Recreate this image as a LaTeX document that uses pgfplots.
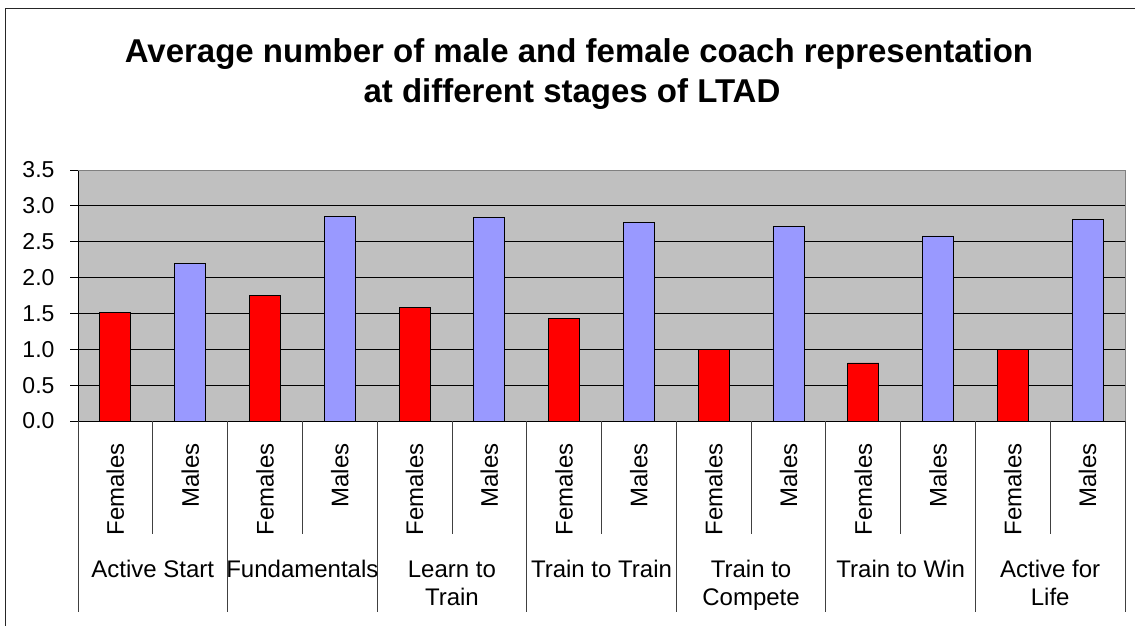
\documentclass[border=0pt]{standalone}
\usepackage{pgfplots}
\pgfplotsset{compat=1.18}
\usepackage{fontspec}
\setmainfont{Liberation Sans}
\definecolor{bgray}{HTML}{C0C0C0}
\definecolor{fem}{HTML}{FF0000}
\definecolor{mal}{HTML}{9999FF}
\begin{document}
\begin{tikzpicture}[x=1pt,y=1pt]
\path[use as bounding box] (0,0) rectangle (1135,-626);
\draw[line width=1pt, black!85] (5,-626) -- (5,-9) -- (1135,-9);
\node[anchor=base, font=\fontsize{33}{39}\selectfont\bfseries] at (579,-63) {Average number of male and female coach representation};
\node[anchor=base, font=\fontsize{33}{39}\selectfont\bfseries] at (572,-102) {at different stages of LTAD};
\begin{axis}[
  at={(78pt,-421pt)}, anchor=south west, scale only axis,
  width=1047pt, height=251pt,
  xmin=-0.5, xmax=13.5, ymin=0, ymax=3.5,
  ytick={0,0.5,...,3.5},
  ymajorgrids, grid style={black, line width=0.8pt},
  axis background/.style={fill=bgray},
  axis x line*=bottom, axis y line*=left,
  axis line style={black, line width=0.8pt},
  tick align=outside, major tick length=8pt,
  xtick={0,...,13},
  xticklabels={Females,Males,Females,Males,Females,Males,Females,Males,Females,Males,Females,Males,Females,Males},
  xtick style={draw=none},
  ytick style={black, line width=0.8pt},
  xticklabel style={rotate=90, anchor=east, font=\fontsize{24}{28}\selectfont},
  xticklabel shift=11pt,
  yticklabel style={font=\fontsize{23}{26}\selectfont, /pgf/number format/.cd, fixed, fixed zerofill, precision=1, assume math mode=true},
  yticklabel shift=12pt,
  clip=false,
]
\addplot[ybar, bar width=31pt, bar shift=0pt, fill=fem, draw=black, line width=0.8pt]
  coordinates {(0,1.51) (2,1.745) (4,1.58) (6,1.43) (8,1.0) (10,0.81) (12,1.0)};
\addplot[ybar, bar width=31pt, bar shift=0pt, fill=mal, draw=black, line width=0.8pt]
  coordinates {(1,2.20) (3,2.855) (5,2.84) (7,2.77) (9,2.71) (11,2.58) (13,2.81)};
\draw[black!50, line width=0.8pt] (rel axis cs:0,1) -- (rel axis cs:1,1) -- (rel axis cs:1,0);
\pgfplotsinvokeforeach{0.5,2.5,4.5,6.5,8.5,10.5,12.5}{
  \draw[black!75, line width=0.8pt] (axis cs:#1,0) -- ([yshift=-113pt]axis cs:#1,0);
}
\pgfplotsinvokeforeach{-0.5,1.5,3.5,5.5,7.5,9.5,11.5,13.5}{
  \draw[black!75, line width=0.8pt] (axis cs:#1,0) -- ([yshift=-191pt]axis cs:#1,0);
}
\tikzset{grp/.style={anchor=base, font=\fontsize{24}{28}\selectfont}}
\node[grp] at ([yshift=-156pt]axis cs:0.5,0) {Active Start};
\node[grp] at ([yshift=-156pt]axis cs:2.5,0) {Fundamentals};
\node[grp] at ([yshift=-156pt]axis cs:4.5,0) {Learn to};
\node[grp] at ([yshift=-184pt]axis cs:4.5,0) {Train};
\node[grp] at ([yshift=-156pt]axis cs:6.5,0) {Train to Train};
\node[grp] at ([yshift=-156pt]axis cs:8.5,0) {Train to};
\node[grp] at ([yshift=-184pt]axis cs:8.5,0) {Compete};
\node[grp] at ([yshift=-156pt]axis cs:10.5,0) {Train to Win};
\node[grp] at ([yshift=-156pt]axis cs:12.5,0) {Active for};
\node[grp] at ([yshift=-184pt]axis cs:12.5,0) {Life};
\end{axis}
\end{tikzpicture}
\end{document}
